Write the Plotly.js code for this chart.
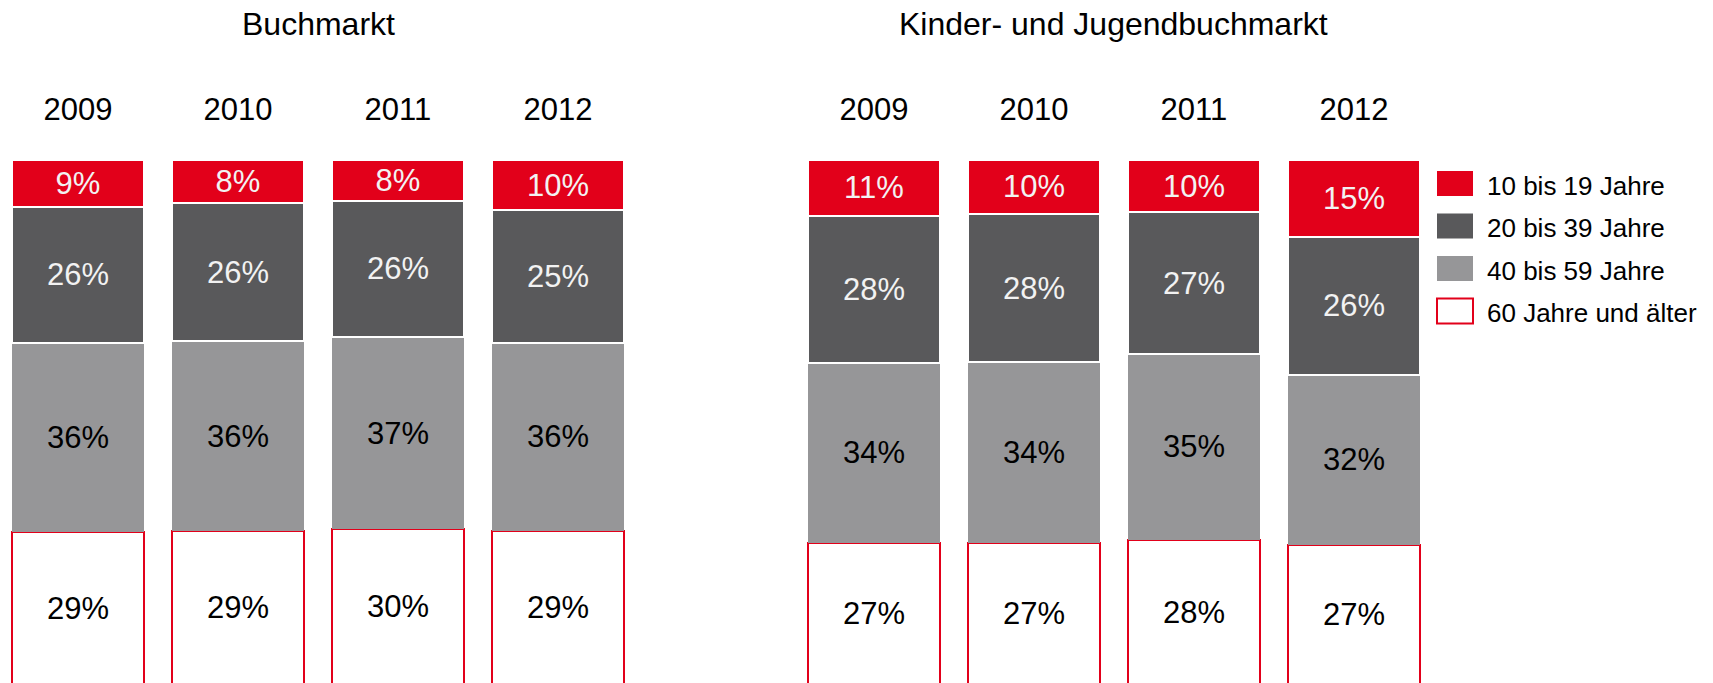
<!DOCTYPE html>
<html>
<head>
<meta charset="utf-8">
<script src="https://cdn.plot.ly/plotly-3.0.1.min.js"></script>
<style>
  html, body { margin: 0; padding: 0; background: #ffffff; overflow: hidden; }
  #chart { width: 1713px; height: 683px; }
</style>
</head>
<body>
<div id="chart"></div>
<script>
// ---- data ----
const years = ['2009', '2010', '2011', '2012'];
const panelTitles = ['Buchmarkt', 'Kinder- und Jugendbuchmarkt'];
const seriesNames = ['10 bis 19 Jahre', '20 bis 39 Jahre', '40 bis 59 Jahre', '60 Jahre und älter'];

// Buchmarkt (shares in %)
const buch_10_19 = [8.9, 8.2, 7.8, 9.6];
const buch_20_39 = [26.0, 26.3, 25.9, 25.2];
const buch_40_59 = [36.1, 36.3, 36.7, 36.0];
const buch_60plus = [29.0, 29.2, 29.6, 29.2];

// Kinder- und Jugendbuchmarkt (shares in %)
const kjb_10_19 = [10.6, 10.2, 10.0, 14.6];
const kjb_20_39 = [28.1, 28.4, 27.0, 26.4];
const kjb_40_59 = [34.3, 34.4, 35.4, 32.3];
const kjb_60plus = [27.0, 27.0, 27.6, 26.7];

// ---- styles ----
const RED = '#E2001A';
const DARK = '#59595B';
const GRAY = '#969698';
const FONT = '"Liberation Sans", Arial, Helvetica, sans-serif';

const styles = {
  '10 bis 19 Jahre':   { fill: RED,  line: '#ffffff', lw: 2, txt: '#F2F2F2' },
  '20 bis 39 Jahre':   { fill: DARK, line: '#ffffff', lw: 2, txt: '#F2F2F2' },
  '40 bis 59 Jahre':   { fill: GRAY, line: GRAY,      lw: 0, txt: '#000000' },
  '60 Jahre und älter':{ fill: '#ffffff', line: RED,  lw: 2, txt: '#000000' }
};

const panels = [
  { xa: 'x',  ya: 'y',  series: [buch_10_19, buch_20_39, buch_40_59, buch_60plus] },
  { xa: 'x2', ya: 'y2', series: [kjb_10_19, kjb_20_39, kjb_40_59, kjb_60plus] }
];

const traces = [];
panels.forEach(p => {
  // stack bottom -> top: 60+, 40-59, 20-39, 10-19
  for (let i = seriesNames.length - 1; i >= 0; i--) {
    const name = seriesNames[i];
    const s = styles[name];
    traces.push({
      type: 'bar',
      name: name,
      x: years,
      y: p.series[i],
      xaxis: p.xa,
      yaxis: p.ya,
      marker: { color: s.fill, line: { color: s.line, width: s.lw } },
      texttemplate: '%{y:.0f}%',
      textposition: 'inside',
      insidetextanchor: 'middle',
      textangle: 0,
      constraintext: 'none',
      textfont: { family: FONT, size: 31, color: s.txt },
      hoverinfo: 'skip',
      showlegend: false
    });
  }
});

// ---- layout geometry (pixels) ----
const W = 1713, H = 683, TOP = 160;
const plotH = H - TOP;
const px2x = px => px / W;
const px2y = py => (H - py) / plotH;

const xCommon = {
  type: 'category',
  side: 'top',
  range: [-0.487, 3.513],
  showgrid: false, zeroline: false, showline: false,
  ticks: '',
  ticklabelstandoff: 33,
  tickfont: { family: FONT, size: 31, color: '#000000' },
  fixedrange: true
};
const yCommon = {
  range: [0.3, 100],
  visible: false,
  showgrid: false, zeroline: false,
  fixedrange: true
};

const annotations = [];
const shapes = [];

// panel titles
const titleCenters = [318, 1113];
panelTitles.forEach((t, i) => {
  annotations.push({
    text: t, xref: 'paper', yref: 'paper',
    x: px2x(titleCenters[i]), y: px2y(24),
    xanchor: 'center', yanchor: 'middle', showarrow: false,
    font: { family: FONT, size: 32, color: '#000000' }
  });
});

// custom legend (swatches sized like the original)
const legX0 = 1437, legX1 = 1473, legTextX = 1485;
const rowCenters = [183.5, 226, 268.5, 311];
seriesNames.forEach((name, i) => {
  const s = styles[name];
  const cy = rowCenters[i];
  shapes.push({
    type: 'rect', xref: 'paper', yref: 'paper',
    x0: px2x(legX0), x1: px2x(legX1),
    y0: px2y(cy - 12.5), y1: px2y(cy + 12.5),
    fillcolor: s.fill,
    line: { color: (name === '60 Jahre und älter') ? RED : s.fill, width: (name === '60 Jahre und älter') ? 2 : 0 }
  });
  annotations.push({
    text: name, xref: 'paper', yref: 'paper',
    x: px2x(legTextX), y: px2y(cy + 2),
    xanchor: 'left', yanchor: 'middle', showarrow: false,
    font: { family: FONT, size: 26, color: '#000000' }
  });
});

const layout = {
  width: W, height: H,
  margin: { l: 0, r: 0, t: TOP, b: 0, pad: 0 },
  paper_bgcolor: '#ffffff',
  plot_bgcolor: '#ffffff',
  barmode: 'stack',
  bargap: 0.175,
  showlegend: false,
  font: { family: FONT, color: '#000000' },
  xaxis: Object.assign({}, xCommon, { domain: [0, 640 / W], anchor: 'y' }),
  yaxis: Object.assign({}, yCommon, { anchor: 'x' }),
  xaxis2: Object.assign({}, xCommon, { domain: [796 / W, 1436 / W], anchor: 'y2' }),
  yaxis2: Object.assign({}, yCommon, { anchor: 'x2' }),
  annotations: annotations,
  shapes: shapes
};

Plotly.newPlot('chart', traces, layout, { displayModeBar: false, staticPlot: true });
</script>
</body>
</html>
